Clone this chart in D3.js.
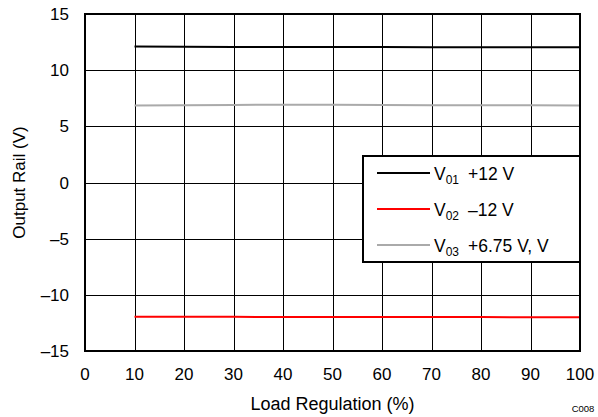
<!DOCTYPE html>
<html>
<head>
  <script src="https://d3js.org/d3.v7.min.js"></script>
  <style>
    body { margin: 0; background: #fff; }
    text { font-family: "Liberation Sans", Arial, sans-serif; fill: #000; }
  </style>
</head>
<body>
<div id="chart"></div>
<script>
  const load = [10, 20, 30, 40, 50, 60, 70, 80, 90, 100];
  const v01 = [12.10, 12.08, 12.07, 12.07, 12.06, 12.06, 12.05, 12.05, 12.04, 12.03];
  const v02 = [-11.95, -11.96, -11.96, -11.97, -11.97, -11.97, -11.98, -11.98, -11.99, -12.00];
  const v03 = [6.85, 6.87, 6.90, 6.93, 6.93, 6.90, 6.88, 6.87, 6.87, 6.86];
  const xTicks = [0, 10, 20, 30, 40, 50, 60, 70, 80, 90, 100];
  const yTicks = [-15, -10, -5, 0, 5, 10, 15];
  const seriesNames = [["01", "+12 V"], ["02", "\u201312 V"], ["03", "+6.75 V, V"]];
  const seriesColors = ["#000000", "#ff0000", "#aaaaaa"];

  const width = 598, height = 417;
  const mLeft = 85, mRight = 580, mTop = 14, mBottom = 351;
  const fs = 17;

  const svg = d3.select("#chart").append("svg")
    .attr("width", width).attr("height", height);

  const x = d3.scaleLinear().domain([0, 100]).range([mLeft, mRight]);
  const y = d3.scaleLinear().domain([-15, 15]).range([mBottom, mTop]);
  const fmt = d => d < 0 ? "\u2013" + Math.abs(d) : String(d);

  // grid
  svg.append("g").selectAll("line").data(xTicks.slice(1, -1)).join("line")
    .attr("x1", d => Math.round(x(d)) + 0.5).attr("x2", d => Math.round(x(d)) + 0.5)
    .attr("y1", mTop).attr("y2", mBottom)
    .attr("stroke", "#000").attr("stroke-width", 1);
  svg.append("g").selectAll("line").data(yTicks.slice(1, -1)).join("line")
    .attr("y1", d => Math.round(y(d)) + 0.5).attr("y2", d => Math.round(y(d)) + 0.5)
    .attr("x1", mLeft).attr("x2", mRight)
    .attr("stroke", "#000").attr("stroke-width", 1);

  // tick labels
  svg.append("g").selectAll("text").data(yTicks).join("text")
    .attr("x", 69).attr("y", d => y(d) + 6)
    .attr("text-anchor", "end").attr("font-size", fs)
    .text(fmt);
  svg.append("g").selectAll("text").data(xTicks).join("text")
    .attr("x", d => x(d)).attr("y", 380)
    .attr("text-anchor", "middle").attr("font-size", fs)
    .text(fmt);

  // series
  const line = d3.line().x((d, i) => x(load[i])).y(d => y(d));
  [v01, v02, v03].forEach((s, k) => {
    svg.append("path").datum(s)
      .attr("d", line)
      .attr("fill", "none")
      .attr("stroke", seriesColors[k])
      .attr("stroke-width", 2);
  });

  // frame
  svg.append("rect")
    .attr("x", mLeft).attr("y", mTop)
    .attr("width", mRight - mLeft).attr("height", mBottom - mTop)
    .attr("fill", "none").attr("stroke", "#000").attr("stroke-width", 2);

  // legend
  const lg = svg.append("g");
  lg.append("rect")
    .attr("x", 363).attr("y", 156).attr("width", 217).attr("height", 106)
    .attr("fill", "#fff").attr("stroke", "#000").attr("stroke-width", 2);
  seriesNames.forEach((n, k) => {
    const yy = 173 + k * 36;
    lg.append("line")
      .attr("x1", 377).attr("x2", 430).attr("y1", yy).attr("y2", yy)
      .attr("stroke", seriesColors[k]).attr("stroke-width", 2);
    const t = lg.append("text").attr("x", 434).attr("y", yy + 7).attr("font-size", 17.5);
    t.append("tspan").text("V");
    t.append("tspan").attr("font-size", 12).attr("dy", 4).text(n[0]);
    t.append("tspan").attr("dy", -4).attr("dx", 9).text(n[1]);
  });

  // axis titles
  svg.append("text")
    .attr("x", x(50)).attr("y", 410)
    .attr("text-anchor", "middle").attr("font-size", 18)
    .text("Load Regulation (%)");
  svg.append("text")
    .attr("transform", `translate(25,${(mTop + mBottom) / 2}) rotate(-90)`)
    .attr("text-anchor", "middle").attr("font-size", fs)
    .text("Output Rail (V)");
  svg.append("text")
    .attr("x", 583).attr("y", 412)
    .attr("text-anchor", "middle").attr("font-size", 9.5)
    .text("C008");
</script>
</body>
</html>
